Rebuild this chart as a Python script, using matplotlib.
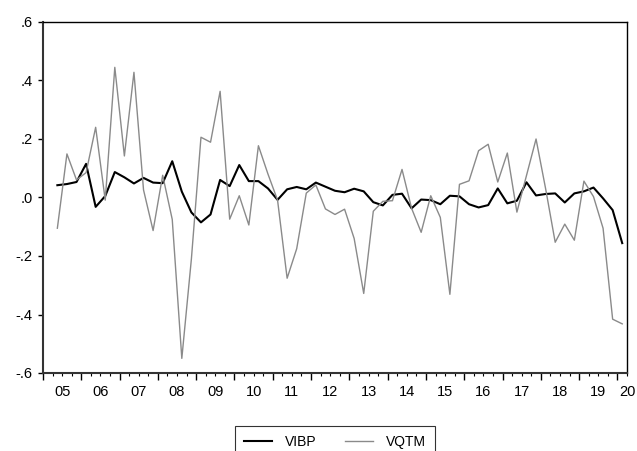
import numpy as np
import pandas as pd
import matplotlib
matplotlib.use('Agg')
import matplotlib.pyplot as plt
from matplotlib.ticker import MultipleLocator, FixedLocator

plt.rcParams['font.family'] = ['Liberation Sans', 'DejaVu Sans']

quarters = pd.period_range('2005Q2', '2020Q1', freq='Q')
year_labels = ['05', '06', '07', '08', '09', '10', '11', '12', '13', '14',
               '15', '16', '17', '18', '19', '20']

vibp = [0.042, 0.046, 0.053, 0.115, -0.032, 0.005, 0.087, 0.069, 0.048, 0.067,
        0.051, 0.049, 0.124, 0.020, -0.051, -0.085, -0.058, 0.060, 0.039, 0.111,
        0.056, 0.056, 0.031, -0.008, 0.028, 0.036, 0.028, 0.051, 0.037, 0.023,
        0.018, 0.030, 0.021, -0.016, -0.027, 0.009, 0.013, -0.037, -0.007, -0.009,
        -0.023, 0.006, 0.004, -0.023, -0.034, -0.026, 0.031, -0.020, -0.011, 0.052,
        0.007, 0.012, 0.014, -0.017, 0.014, 0.021, 0.034, -0.003, -0.043, -0.156]

vqtm = [-0.105, 0.149, 0.060, 0.085, 0.240, -0.009, 0.445, 0.142, 0.428, 0.026,
        -0.113, 0.076, -0.075, -0.550, -0.210, 0.206, 0.189, 0.363, -0.074, 0.006,
        -0.094, 0.177, 0.080, -0.009, -0.276, -0.175, 0.015, 0.043, -0.039, -0.058,
        -0.040, -0.140, -0.328, -0.047, -0.013, -0.011, 0.096, -0.037, -0.119, 0.006,
        -0.068, -0.331, 0.045, 0.057, 0.160, 0.182, 0.053, 0.152, -0.050, 0.075,
        0.200, 0.030, -0.153, -0.091, -0.146, 0.056, 0.003, -0.105, -0.416, -0.432]

# position of each quarter on the axis: quarters since 2005Q1, centred in its slot
x = np.array([(q.year - 2005) * 4 + (q.quarter - 1) for q in quarters]) + 0.5

fig = plt.figure(figsize=(6.37, 4.51), dpi=100)
ax = fig.add_axes([43 / 637, 1 - 373 / 451, 584 / 637, 351 / 451])

l1, = ax.plot(x, vibp, color='black', lw=1.5, label='VIBP')
l2, = ax.plot(x, vqtm, color='#8a8a8a', lw=1.0, label='VQTM')

ax.set_xlim(0, 61)
ax.set_ylim(-0.6, 0.6)

yt = [-0.6, -0.4, -0.2, 0.0, 0.2, 0.4, 0.6]
ax.set_yticks(yt)
ax.set_yticklabels(['-.6', '-.4', '-.2', '.0', '.2', '.4', '.6'], fontsize=10.5)

ax.xaxis.set_major_locator(FixedLocator(np.arange(0, 61, 4)))
ax.xaxis.set_minor_locator(MultipleLocator(1))
ax.set_xticklabels([])
ax.tick_params(axis='x', which='major', length=5, width=1, direction='out')
ax.tick_params(axis='x', which='minor', length=2.5, width=0.8, direction='out')
ax.tick_params(axis='y', which='major', length=3.6, width=1, direction='out', pad=4)

for k, lab in enumerate(year_labels):
    xpos = 4 * k + 2 if k < len(year_labels) - 1 else 61
    ax.annotate(lab, xy=(xpos, 0), xycoords=('data', 'axes fraction'),
                xytext=(0, -14), textcoords='offset points',
                ha='center', va='center', fontsize=10.5)

for side in ['left', 'bottom']:
    ax.spines[side].set_linewidth(1.5)
    ax.spines[side].set_color('#333333')
for side in ['top', 'right']:
    ax.spines[side].set_linewidth(1.0)

leg = fig.legend(handles=[l1, l2], loc='center', ncol=2,
                 bbox_to_anchor=(335 / 637, 1 - 442 / 451),
                 frameon=True, fancybox=False, fontsize=10,
                 handlelength=2.0, columnspacing=2.1, handletextpad=0.9,
                 borderpad=0.65)
leg.get_frame().set_edgecolor('black')
leg.get_frame().set_linewidth(0.8)

fig.savefig('out.png', dpi=100)
